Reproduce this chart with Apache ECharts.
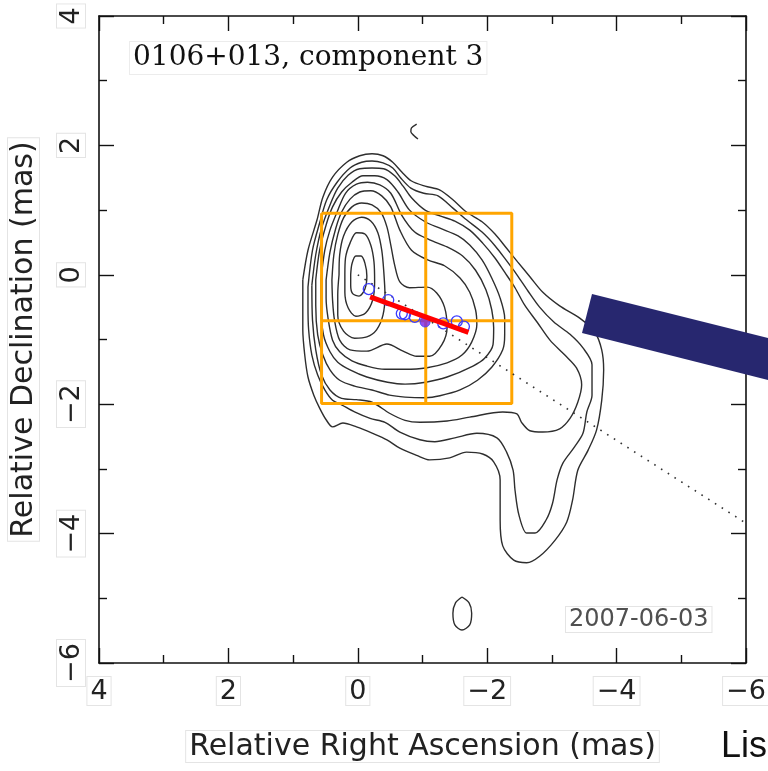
<!DOCTYPE html>
<html>
<head>
<meta charset="utf-8">
<title>0106+013, component 3</title>
<script src="https://cdn.jsdelivr.net/npm/echarts@6/dist/echarts.min.js"></script>
<style>
  html, body { margin: 0; padding: 0; background: #fff; }
  #main { width: 768px; height: 771px; }
</style>
</head>
<body>
<div id="main"></div>
<script>
// contour levels, outermost first, points are [RA offset, Dec offset] in mas
const contour1 = [[0.85,-0.08],[0.77,0.38],[0.63,0.85],[0.54,1.20],[0.39,1.51],[0.17,1.74],[-0.03,1.84],[-0.22,1.87],[-0.39,1.84],[-0.54,1.74],[-0.68,1.59],[-0.83,1.45],[-1.04,1.37],[-1.27,1.31],[-1.47,1.16],[-1.68,0.97],[-1.92,0.82],[-2.12,0.63],[-2.30,0.41],[-2.47,0.20],[-2.66,-0.03],[-2.86,-0.27],[-3.12,-0.48],[-3.43,-0.67],[-3.66,-0.88],[-3.77,-1.16],[-3.80,-1.47],[-3.77,-1.94],[-3.69,-2.40],[-3.56,-2.71],[-3.40,-3.02],[-3.32,-3.48],[-3.23,-3.82],[-3.05,-4.10],[-2.81,-4.35],[-2.61,-4.45],[-2.41,-4.41],[-2.24,-4.19],[-2.20,-3.79],[-2.20,-3.17],[-2.10,-2.89],[-1.93,-2.77],[-1.68,-2.74],[-1.42,-2.83],[-1.11,-2.86],[-0.91,-2.79],[-0.65,-2.68],[-0.45,-2.55],[-0.23,-2.45],[0.02,-2.35],[0.23,-2.29],[0.39,-2.35],[0.49,-2.24],[0.59,-2.06],[0.68,-1.86],[0.77,-1.58],[0.82,-1.24],[0.85,-0.85],[0.85,-0.39]]
const contour2 = [[0.77,-0.19],[0.70,0.38],[0.59,0.80],[0.48,1.16],[0.32,1.43],[0.12,1.65],[-0.06,1.74],[-0.22,1.76],[-0.39,1.73],[-0.54,1.65],[-0.66,1.50],[-0.82,1.34],[-1.02,1.26],[-1.24,1.22],[-1.47,1.03],[-1.68,0.85],[-1.92,0.66],[-2.12,0.45],[-2.29,0.23],[-2.46,0.00],[-2.63,-0.25],[-2.81,-0.50],[-3.03,-0.73],[-3.28,-0.92],[-3.48,-1.13],[-3.62,-1.39],[-3.62,-1.86],[-3.54,-2.12],[-3.48,-2.45],[-3.35,-2.66],[-3.17,-2.91],[-3.08,-3.17],[-3.01,-3.53],[-2.91,-3.79],[-2.74,-3.99],[-2.61,-3.99],[-2.49,-3.71],[-2.43,-3.33],[-2.40,-3.02],[-2.30,-2.74],[-2.15,-2.52],[-1.84,-2.45],[-1.50,-2.52],[-1.19,-2.58],[-0.96,-2.55],[-0.65,-2.43],[-0.42,-2.28],[-0.19,-2.22],[0.05,-2.12],[0.25,-2.01],[0.39,-1.94],[0.51,-1.78],[0.62,-1.55],[0.71,-1.24],[0.76,-0.85],[0.77,-0.47]]
const contour3 = [[0.71,-0.16],[0.65,0.31],[0.56,0.72],[0.43,1.08],[0.31,1.34],[0.15,1.54],[-0.03,1.64],[-0.22,1.65],[-0.40,1.64],[-0.57,1.53],[-0.70,1.37],[-0.83,1.19],[-1.04,1.00],[-1.27,0.91],[-1.50,0.83],[-1.73,0.69],[-1.93,0.49],[-2.12,0.26],[-2.27,0.04],[-2.43,-0.20],[-2.58,-0.47],[-2.77,-0.73],[-2.97,-1.01],[-3.20,-1.24],[-3.38,-1.44],[-3.46,-1.70],[-3.40,-1.97],[-3.28,-2.22],[-3.12,-2.38],[-2.86,-2.43],[-2.66,-2.41],[-2.53,-2.28],[-2.46,-2.15],[-2.24,-2.12],[-1.73,-2.20],[-1.38,-2.26],[-0.96,-2.28],[-0.73,-2.25],[-0.49,-2.14],[-0.22,-1.97],[0.02,-1.93],[0.25,-1.91],[0.43,-1.78],[0.56,-1.55],[0.65,-1.16],[0.70,-0.70]]
const contour4 = [[0.65,-0.08],[0.59,0.38],[0.49,0.77],[0.39,1.05],[0.25,1.28],[0.09,1.43],[-0.08,1.53],[-0.26,1.53],[-0.45,1.47],[-0.62,1.28],[-0.80,1.00],[-1.04,0.82],[-1.27,0.72],[-1.55,0.60],[-1.73,0.46],[-1.92,0.23],[-2.07,-0.05],[-2.20,-0.36],[-2.27,-0.67],[-2.27,-0.93],[-2.24,-1.16],[-2.07,-1.43],[-1.85,-1.63],[-1.58,-1.78],[-1.27,-1.87],[-1.05,-1.90],[-0.73,-1.89],[-0.49,-1.86],[-0.22,-1.78],[0.05,-1.72],[0.28,-1.63],[0.43,-1.47],[0.54,-1.24],[0.62,-0.93],[0.65,-0.47]]
const contour5 = [[0.57,-0.08],[0.51,0.38],[0.43,0.69],[0.32,0.97],[0.19,1.26],[0.02,1.40],[-0.15,1.43],[-0.34,1.39],[-0.51,1.26],[-0.68,0.92],[-0.88,0.66],[-1.11,0.54],[-1.38,0.43],[-1.62,0.29],[-1.82,0.07],[-1.98,-0.23],[-2.07,-0.54],[-2.10,-0.82],[-2.09,-1.08],[-1.96,-1.29],[-1.78,-1.41],[-1.38,-1.58],[-1.05,-1.66],[-0.73,-1.69],[-0.46,-1.66],[-0.14,-1.58],[0.12,-1.47],[0.31,-1.35],[0.43,-1.19],[0.53,-0.93],[0.57,-0.47]]
const contour6 = [[0.49,-0.08],[0.43,0.35],[0.34,0.72],[0.25,0.97],[0.12,1.17],[-0.03,1.28],[-0.20,1.30],[-0.37,1.22],[-0.51,1.05],[-0.65,0.69],[-0.83,0.38],[-1.08,0.23],[-1.34,0.14],[-1.58,-0.05],[-1.73,-0.27],[-1.82,-0.54],[-1.84,-0.77],[-1.76,-1.04],[-1.61,-1.24],[-1.38,-1.36],[-1.05,-1.44],[-0.73,-1.46],[-0.42,-1.46],[-0.14,-1.41],[0.09,-1.33],[0.28,-1.19],[0.39,-1.01],[0.46,-0.67],[0.49,-0.36]]
const contour7 = [[0.40,-0.08],[0.37,0.31],[0.31,0.62],[0.22,0.88],[0.09,1.05],[-0.06,1.11],[-0.22,1.08],[-0.36,0.96],[-0.45,0.74],[-0.51,0.46],[-0.57,0.15],[-0.65,-0.11],[-0.80,-0.20],[-1.07,-0.19],[-1.22,-0.28],[-1.34,-0.50],[-1.38,-0.81],[-1.30,-1.08],[-1.11,-1.26],[-0.91,-1.26],[-0.70,-1.18],[-0.45,-1.07],[-0.14,-1.18],[0.12,-1.16],[0.28,-1.01],[0.36,-0.70],[0.39,-0.39]]
const contour8 = [[0.29,0.00],[0.28,0.31],[0.22,0.60],[0.09,0.82],[-0.06,0.89],[-0.20,0.83],[-0.31,0.65],[-0.37,0.38],[-0.40,0.07],[-0.42,-0.31],[-0.39,-0.62],[-0.29,-0.85],[-0.14,-0.96],[0.05,-0.98],[0.22,-0.87],[0.31,-0.62],[0.31,-0.31]]
const contour9 = [[0.20,0.00],[0.19,0.26],[0.12,0.49],[0.02,0.65],[-0.11,0.63],[-0.20,0.46],[-0.25,0.20],[-0.26,-0.11],[-0.23,-0.39],[-0.12,-0.59],[0.03,-0.64],[0.15,-0.51],[0.20,-0.27]]
const contour10 = [[0.11,0.00],[0.09,0.17],[0.03,0.29],[-0.05,0.29],[-0.11,0.18],[-0.14,-0.02],[-0.11,-0.22],[-0.02,-0.33],[0.08,-0.29],[0.11,-0.16]]
const southBlob = [[-1.61,-4.98],[-1.72,-5.07],[-1.76,-5.23],[-1.73,-5.41],[-1.61,-5.49],[-1.50,-5.41],[-1.47,-5.23],[-1.51,-5.07]]
const northArc = [[-0.91,2.33],[-0.83,2.27],[-0.82,2.21],[-0.87,2.15],[-0.93,2.10]]

// component positions over the epochs
const compRA = [-0.17, -0.47, -0.68, -0.73, -0.88, -1.32, -1.53, -1.64]
const compDec = [-0.22, -0.39, -0.60, -0.61, -0.65, -0.75, -0.72, -0.80]
const currentRA = [-1.04]
const currentDec = [-0.73]

// fitted motion vector and direction back to the core
const fitRA = [-0.19, -1.71]
const fitDec = [-0.34, -0.89]
const jetRA = [0, -6]
const jetDec = [0, -3.84]

// orange box: outer edges and the inner cross lines
const boxRA = [0.56, -1.05, -2.38]
const boxDec = [0.95, -0.71, -1.99]

const axisTicks = [-6, -4, -2, 0, 2, 4]

const chart = echarts.init(document.getElementById('main'))

const zip = (xs, ys) => xs.map((x, i) => [x, ys[i]])
const closeRing = pts => pts.concat([pts[0]])
const minus = v => (v < 0 ? '\u2212' + Math.abs(v) : String(v))

const labelBox = {
  fontFamily: 'DejaVu Sans',
  fontSize: 27,
  color: '#222',
  backgroundColor: '#fff',
  borderColor: '#e4e4e4',
  borderWidth: 1,
  padding: [1, 3, 0, 3]
}

const frameAxis = {
  type: 'value',
  min: axisTicks[0],
  max: axisTicks[axisTicks.length - 1],
  interval: 2,
  axisLine: { show: true, onZero: false, lineStyle: { color: '#111', width: 1.6 } },
  axisTick: { show: true, inside: true, length: 15, lineStyle: { color: '#111', width: 1.4 } },
  minorTick: { show: true, splitNumber: 2, length: 8, lineStyle: { color: '#111', width: 1.4 } },
  splitLine: { show: false },
  minorSplitLine: { show: false }
}

const contourLine = (pts, closed) => ({
  type: 'line',
  data: closed ? closeRing(pts) : pts,
  showSymbol: false,
  smooth: 0.3,
  silent: true,
  lineStyle: { color: '#2e2e2e', width: 1.4 },
  z: 2
})

const contours = [contour1, contour2, contour3, contour4, contour5, contour6, contour7, contour8, contour9, contour10, southBlob]
const series = contours.map(c => contourLine(c, true))
series.push(contourLine(northArc, false))

const orange = { color: '#ffa500', width: 3 }
series.push(
  {
    type: 'line', silent: true, showSymbol: false, z: 3, lineStyle: orange,
    data: [[boxRA[0], boxDec[0]], [boxRA[2], boxDec[0]], [boxRA[2], boxDec[2]], [boxRA[0], boxDec[2]], [boxRA[0], boxDec[0]]]
  },
  { type: 'line', silent: true, showSymbol: false, z: 3, lineStyle: orange, data: [[boxRA[1], boxDec[0]], [boxRA[1], boxDec[2]]] },
  { type: 'line', silent: true, showSymbol: false, z: 3, lineStyle: orange, data: [[boxRA[0], boxDec[1]], [boxRA[2], boxDec[1]]] },
  {
    type: 'line', silent: true, showSymbol: false, z: 4,
    lineStyle: { color: '#333', width: 1.6, type: [1.6, 6.4] },
    data: zip(jetRA, jetDec)
  },
  {
    type: 'scatter', silent: true, z: 5,
    symbol: 'circle', symbolSize: 11,
    itemStyle: { color: 'rgba(0,0,0,0)', borderColor: '#3b3bff', borderWidth: 1.3, opacity: 1 },
    data: zip(compRA, compDec)
  },
  {
    type: 'scatter', silent: true, z: 6,
    symbol: 'circle', symbolSize: 10,
    itemStyle: { color: '#7a22e8', borderColor: '#3b3bff', borderWidth: 1 },
    data: zip(currentRA, currentDec)
  },
  {
    type: 'line', silent: true, showSymbol: false, z: 7,
    lineStyle: { color: '#ff0000', width: 5, cap: 'butt' },
    data: zip(fitRA, fitDec)
  }
)

const option = {
  animation: false,
  backgroundColor: '#fff',
  grid: { left: 99, right: 22, top: 16, bottom: 108, containLabel: false, outerBoundsMode: 'none' },
  xAxis: [
    Object.assign({}, frameAxis, {
      position: 'bottom',
      inverse: true,
      name: 'Relative Right Ascension (mas)',
      nameLocation: 'middle',
      nameGap: 68,
      nameTextStyle: Object.assign({}, labelBox, { fontSize: 30 }),
      axisLabel: Object.assign({}, labelBox, { margin: 14, formatter: minus, showMinLabel: true, showMaxLabel: true })
    }),
    Object.assign({}, frameAxis, { position: 'top', inverse: true, axisLabel: { show: false } })
  ],
  yAxis: [
    Object.assign({}, frameAxis, {
      position: 'left',
      name: 'Relative Declination (mas)',
      nameLocation: 'middle',
      nameGap: 60,
      nameTextStyle: Object.assign({}, labelBox, { fontSize: 30 }),
      axisLabel: Object.assign({}, labelBox, { rotate: 90, margin: 14, formatter: minus, showMinLabel: true, showMaxLabel: true })
    }),
    Object.assign({}, frameAxis, { position: 'right', axisLabel: { show: false } })
  ],
  series: series,
  graphic: [
    {
      type: 'text', left: 129, top: 41, z: 100,
      style: {
        text: '0106+013, component 3',
        font: '28px "DejaVu Serif"',
        fill: '#111',
        backgroundColor: '#fff',
        borderColor: '#ececec',
        borderWidth: 1,
        padding: [2, 3, 2, 3]
      }
    },
    {
      type: 'text', left: 565, top: 606, z: 100,
      style: {
        text: '2007-06-03',
        font: '24px "DejaVu Sans"',
        fill: '#505050',
        backgroundColor: '#fff',
        borderColor: '#e4e4e4',
        borderWidth: 1,
        padding: [1, 3, 0, 3]
      }
    },
    {
      type: 'polygon', z: 110,
      shape: { points: [[592, 294], [772, 339], [772, 381], [582, 333]] },
      style: { fill: '#27276f' }
    },
    {
      type: 'text', left: 721, top: 729, z: 110,
      style: { text: 'Lis', font: '36px "Liberation Sans"', fill: '#111' }
    }
  ]
}

chart.setOption(option)
</script>
</body>
</html>
